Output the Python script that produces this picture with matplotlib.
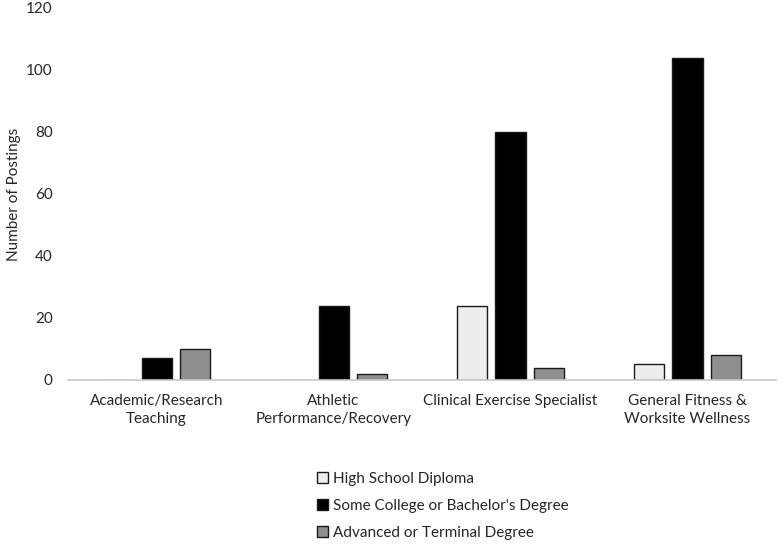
import matplotlib
matplotlib.use("Agg")
import matplotlib.pyplot as plt
import numpy as np

categories = ["Academic/Research\nTeaching", "Athletic\nPerformance/Recovery",
              "Clinical Exercise Specialist", "General Fitness &\nWorksite Wellness"]
series_names = ["High School Diploma", "Some College or Bachelor's Degree",
                "Advanced or Terminal Degree"]
high_school = [0, 0, 24, 5]
bachelor = [7, 24, 80, 104]
advanced = [10, 2, 4, 8]
yticks = [0, 20, 40, 60, 80, 100, 120]

colors = ["#ededed", "#000000", "#8f8f8f"]

plt.rcParams['font.family'] = ['Lato', 'DejaVu Sans']
fig = plt.figure(figsize=(7.83, 5.44), dpi=100)
ax = fig.add_axes([0.087, 0.3015, 0.904, 0.684])

x = np.arange(len(categories))
w = 0.17
step = 0.217
for i, (vals, name, c) in enumerate(zip([high_school, bachelor, advanced], series_names, colors)):
    ax.bar(x + (i - 1) * step, vals, width=w, color=c, edgecolor="#1a1a1a",
           linewidth=1.0, label=name)

ax.set_xlim(-0.5, len(categories) - 0.5)
ax.set_ylim(0, 120)
ax.set_yticks(yticks)
ax.set_xticks(x)
ax.set_xticklabels(categories, fontsize=11, color="#262626", linespacing=1.35)
ax.tick_params(axis='y', labelsize=11, labelcolor="#262626", length=0, pad=11)
ax.tick_params(axis='x', length=0, pad=10)
for s in ["top", "right", "left"]:
    ax.spines[s].set_visible(False)
ax.spines["bottom"].set_color("#c8c8c8")
ax.spines["bottom"].set_linewidth(1.2)
ax.set_ylabel("Number of Postings", fontsize=11, color="#262626")
ax.yaxis.set_label_coords(-0.066, 0.5)

handles, labels = ax.get_legend_handles_labels()
fig.legend(handles, labels, loc="upper left", bbox_to_anchor=(0.387, 0.158),
           frameon=False, fontsize=11, handlelength=0.75, handleheight=0.75,
           handletextpad=0.3, labelspacing=0.85, labelcolor="#262626")

fig.savefig("out.png", dpi=100)
